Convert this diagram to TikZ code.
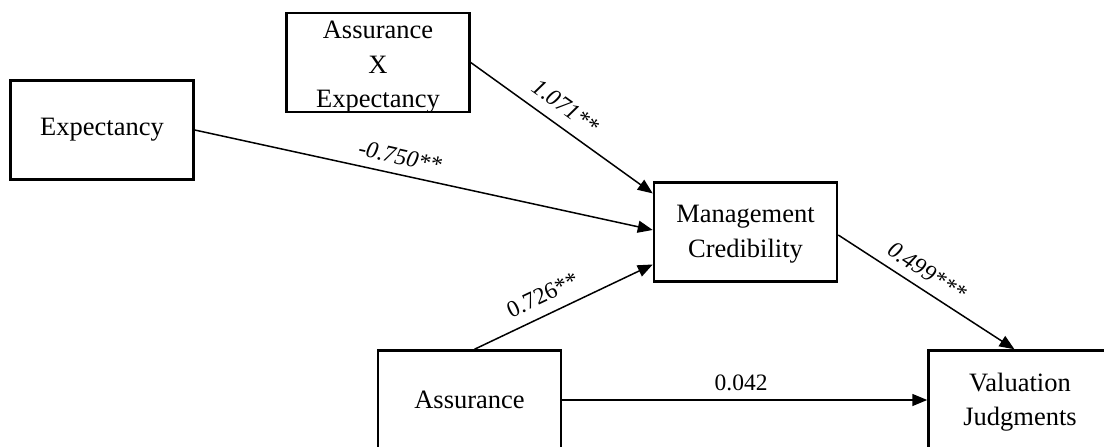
\documentclass[tikz,border=0pt]{standalone}
\usepackage{fontspec}
\setmainfont{Liberation Serif}
\usetikzlibrary{arrows.meta,calc}
\begin{document}
\begin{tikzpicture}[x=1pt,y=-1pt,
 box/.style={draw,line width=2.5pt,minimum width=183pt,minimum height=99pt,align=center,font=\fontsize{26.5}{35}\selectfont,inner sep=0pt},
 boxtext/.style={align=center,font=\fontsize{26.5}{34.5}\selectfont,inner sep=0pt},
 conn/.style={line width=1.5pt,-{Triangle[length=15pt,width=12pt]}},
 lab/.style={sloped,inner sep=0pt,font=\fontsize{23.5}{27}\selectfont},
]
\useasboundingbox (0,0) rectangle (1104,447);
\clip (0,0) rectangle (1104,447);
\fill[white] (0,0) rectangle (1104,447);
\node[box] (ex) at (102,130) {Expectancy};
\node[box] (axe) at (378,62.5) {};
\node[boxtext] (axet) at ($(axe.center)+(0,5)$) {Assurance\\X\\Expectancy};
\node[box] (mc) at (745.5,232) {};
\node[boxtext] (mct) at ($(mc.center)+(0,2)$) {Management\\Credibility};
\node[box] (as) at (469.5,400) {Assurance};
\node[box] (vj) at (1020,400) {};
\node[boxtext] (vjt) at ($(vj.center)+(0,2)$) {Valuation\\Judgments};
\coordinate (mc1) at ($(mc.north west)!0.12!(mc.south west)$);
\coordinate (mc2) at ($(mc.north west)!0.48!(mc.south west)$);
\coordinate (mc3) at ($(mc.north west)!0.82!(mc.south west)$);
\coordinate (vjn) at ($(vj.north west)!0.47!(vj.north east)$);
\coordinate (asn) at ($(as.north)+(5,0)$);
\coordinate (mce) at ($(mc.east)+(0,3)$);
\draw[conn] (ex.east) -- node[lab,pos=0.44,above=9pt]{\itshape -0.750**} (mc2);
\draw[conn] (axe.east) -- node[lab,pos=0.46,above=11pt]{\itshape 1.071**} (mc1);
\draw[conn] (asn) -- node[lab,pos=0.43,above=11pt]{0.726**} (mc3);
\draw[conn] (mce) -- node[lab,pos=0.45,above=9pt]{\itshape 0.499***} (vjn);
\draw[conn] (as.east) -- node[lab,pos=0.49,above=8pt]{0.042} (vj.west);
\end{tikzpicture}
\end{document}
